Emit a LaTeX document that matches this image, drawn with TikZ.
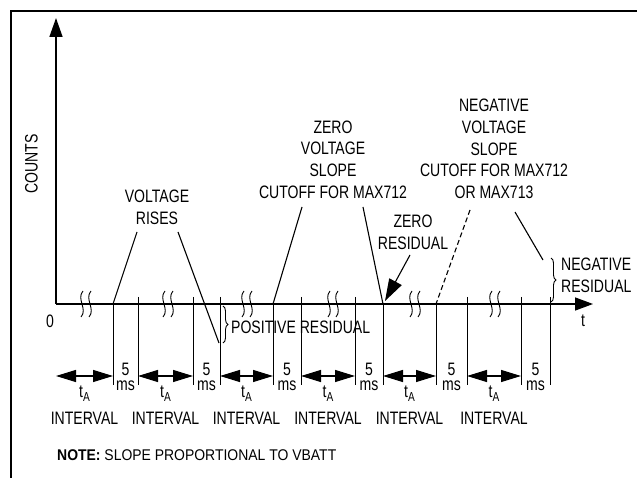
\documentclass[tikz,border=0pt]{standalone}
\usepackage{fontspec}
\setmainfont{Liberation Sans}[FakeStretch=0.78]
\newfontfamily\notefont{Liberation Sans}[FakeStretch=0.9]
\usetikzlibrary{arrows.meta,decorations.pathreplacing}

\begin{document}
\begin{tikzpicture}[x=1pt,y=-1pt,
  lbl/.style={font=\fontsize{18}{21.7}\selectfont, inner sep=0pt, align=center},
  axis/.style={line width=1.5pt},
  tick/.style={line width=0.9pt},
  slope/.style={line width=1.1pt},
  tarrow/.style={line width=1.2pt, {Triangle[length=20pt,width=12pt]}-{Triangle[length=20pt,width=12pt]}},
  resbrace/.style={line width=0.9pt, decorate, decoration={brace,amplitude=5pt}}]

\useasboundingbox (0,0) rectangle (637,478);

% Parameters
\def\axisy{304}     % height of the time axis
\def\tickbot{385}   % lower end of the interval ticks

% Frame
\draw[line width=2pt] (11,478) -- (11,11) -- (637,11);

% Axes
\coordinate (O) at (56,\axisy);
\coordinate (ytop) at (56,18);
\coordinate (xend) at (593,\axisy);
\draw[axis, -{Triangle[length=19pt,width=13pt]}] (O) -- (ytop);
\draw[axis, -{Triangle[length=18pt,width=13pt]}] (O) -- (xend);

\node[lbl] (zero) at (50,321.5) {0};
\node[lbl] (t) at (583,321) {t};
\node[lbl, rotate=90] (counts) at (31.5,164) {COUNTS};

% Breaks in the time axis
\foreach \x in {86,168,247,333,415,495} {
    \foreach \d in {-4,4} {
        \draw[tick] ({\x+\d+1},291) .. controls ({\x+\d-6},299) and ({\x+\d+6},309) .. ({\x+\d-1},317);
    }
}

% Interval ticks
\foreach \x/\top in {113/304,138/297,193/297,220/297,273/304,301/297,355/297,383/304,436/304,467/297,521/297,550/297} {
    \draw[tick] (\x,\top) -- (\x,\tickbot);
}

% t_A intervals and 5 ms gaps
\foreach \a/\b/\c [count=\n] in {56/113/138, 138/193/220, 220/273/301, 301/355/383, 383/436/467, 467/521/550} {
    \coordinate (s\n) at (\a,376);
    \coordinate (e\n) at (\b,376);
    \draw[tarrow] (s\n) -- (e\n);
    \node[lbl, anchor=base] (ta\n) at ({(\a+\b)/2},397) {t\raisebox{-4pt}{\fontsize{13}{13}\selectfont A}};
    \node[lbl, anchor=base] (int\n) at ({(\a+\b)/2},424) {INTERVAL};
    \node[lbl, anchor=base] (five\n) at ({(\b+\c)/2},375.7) {5};
    \node[lbl, anchor=base] (ms\n) at ({(\b+\c)/2},390) {ms};
}

% Labels
\node[lbl] (rises) at (157,207.5) {VOLTAGE\\RISES};
\node[lbl] (zslope) at (333,159.5) {ZERO\\VOLTAGE\\SLOPE\\CUTOFF FOR MAX712};
\node[lbl] (zres) at (413,232.5) {ZERO\\RESIDUAL};
\node[lbl] (nslope) at (494,149) {NEGATIVE\\VOLTAGE\\SLOPE\\CUTOFF FOR MAX712\\OR MAX713};
\node[lbl, anchor=west, align=left] (nres) at (561,275) {NEGATIVE\\RESIDUAL};
\node[lbl, anchor=west] (pres) at (231,327) {POSITIVE RESIDUAL};
\node[anchor=base west, inner sep=0pt, font=\notefont\fontsize{15.5}{18}\selectfont] (note) at (57,460.7) {\textbf{NOTE:} SLOPE PROPORTIONAL TO VBATT};

% Slope lines
\coordinate (r1) at (137,232);  \coordinate (a1) at (113,\axisy);
\coordinate (r2) at (178,232);  \coordinate (a2) at (219,343);
\coordinate (z1) at (302,207);  \coordinate (a3) at (273,\axisy);
\coordinate (z2) at (363,207);  \coordinate (a4) at (383,\axisy);
\coordinate (zr) at (410,255);  \coordinate (a5) at (385,301);
\coordinate (n1) at (470,210);  \coordinate (a6) at (436,\axisy);
\coordinate (n2) at (515,212);  \coordinate (a7) at (543,260);
\draw[slope] (r1) -- (a1);
\draw[slope] (r2) -- (a2);
\draw[slope] (z1) -- (a3);
\draw[slope] (z2) -- (a4);
\draw[slope, -{Triangle[length=22pt,width=14pt]}] (zr) -- (a5);
\draw[slope, dash pattern=on 5pt off 3pt] (n1) -- (a6);
\draw[slope] (n2) -- (a7);

% Residual braces
\draw[resbrace] (223,306) -- (223,343);
\draw[resbrace] (551,258) -- (551,302);

\end{tikzpicture}
\end{document}
